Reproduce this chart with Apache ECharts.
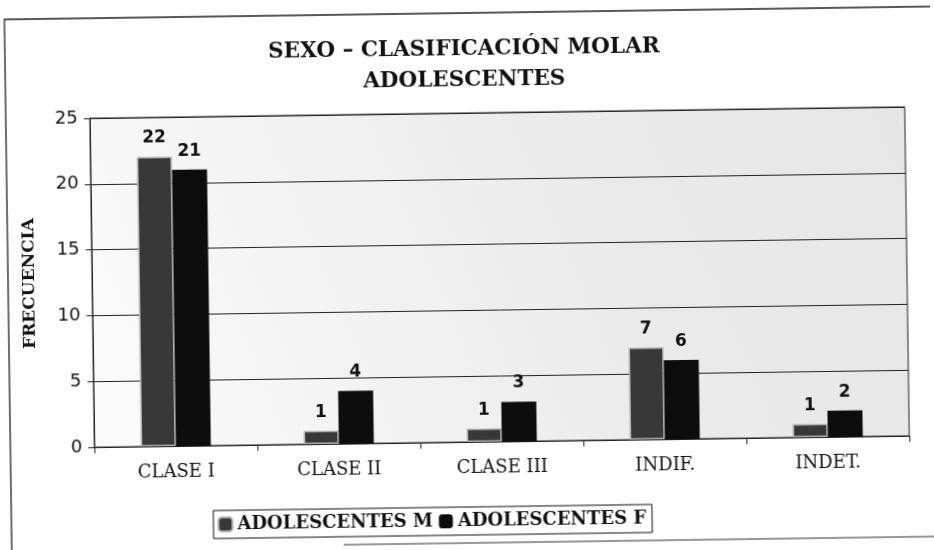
<!DOCTYPE html>
<html>
<head>
<meta charset="utf-8">
<script src="https://cdn.jsdelivr.net/npm/echarts@6/dist/echarts.min.js"></script>
<style>
  html, body { margin: 0; padding: 0; background: #fff; overflow: hidden; }
  /* the scanned reference sits slightly askew */
  #chart { width: 934px; height: 550px; transform: rotate(-0.8deg); }
</style>
</head>
<body>
<div id="chart"></div>
<script>
var categories = ['CLASE I', 'CLASE II', 'CLASE III', 'INDIF.', 'INDET.'];
var seriesNames = ['ADOLESCENTES M', 'ADOLESCENTES F'];
var valuesM = [22, 1, 1, 7, 1];
var valuesF = [21, 4, 3, 6, 2];

var chart = echarts.init(document.getElementById('chart'));

var serif = '"DejaVu Serif", "Liberation Serif", serif';
var sans = '"DejaVu Sans", Verdana, sans-serif';

option = {
    backgroundColor: 'transparent',
    animation: false,
    title: {
        text: 'SEXO – CLASIFICACIÓN MOLAR\nADOLESCENTES',
        left: 'center',
        top: 29,
        textStyle: {
            fontFamily: serif,
            fontWeight: 'bold',
            fontSize: 21.5,
            lineHeight: 31,
            color: '#111'
        }
    },
    graphic: [
        {
            type: 'polyline',
            shape: { points: [[950, 13], [8, 13], [8, 560]] },
            style: { fill: null, stroke: '#222', lineWidth: 1.3 },
            silent: true
        },
        {
            type: 'line',
            shape: { x1: 340, y1: 543, x2: 950, y2: 543 },
            style: { stroke: '#333', lineWidth: 1.2 },
            silent: true
        }
    ],
    legend: {
        data: seriesNames,
        left: 210,
        top: 507,
        itemWidth: 14,
        itemHeight: 14,
        itemGap: 6,
        padding: [5, 6, 5, 4],
        borderColor: '#111',
        borderWidth: 1,
        textStyle: {
            fontFamily: serif,
            fontWeight: 'bold',
            fontSize: 18,
            color: '#111'
        }
    },
    grid: {
        left: 92,
        right: 27,
        top: 113,
        bottom: 108,
        show: true,
        backgroundColor: new echarts.graphic.LinearGradient(0, 1, 1, 0, [
            { offset: 0, color: '#fbfbfb' },
            { offset: 0.6, color: '#ebebeb' },
            { offset: 1, color: '#e6e6e6' }
        ]),
        borderColor: '#222',
        borderWidth: 1
    },
    xAxis: {
        type: 'category',
        data: categories,
        axisLine: { lineStyle: { color: '#222', width: 1 } },
        axisTick: { show: true, length: 6, lineStyle: { color: '#222' } },
        axisLabel: {
            margin: 17,
            fontFamily: serif,
            fontSize: 18,
            color: '#111'
        }
    },
    yAxis: {
        type: 'value',
        min: 0,
        max: 25,
        interval: 5,
        name: 'FRECUENCIA',
        nameLocation: 'middle',
        nameGap: 54,
        nameRotate: 90,
        nameTextStyle: {
            fontFamily: serif,
            fontWeight: 'bold',
            fontSize: 17,
            color: '#111'
        },
        axisLine: { show: true, lineStyle: { color: '#222' } },
        axisTick: { show: true, length: 6, lineStyle: { color: '#222' } },
        axisLabel: {
            margin: 12,
            fontFamily: sans,
            fontSize: 18,
            color: '#111'
        },
        splitLine: { show: true, lineStyle: { color: '#222', width: 1 } }
    },
    series: [
        {
            name: seriesNames[0],
            type: 'bar',
            data: valuesM,
            barWidth: 35,
            barGap: '0%',
            itemStyle: {
                color: '#383838',
                borderColor: '#b0b0b0',
                borderWidth: 1.5
            },
            label: {
                show: true,
                position: 'top',
                distance: 10,
                fontFamily: sans,
                fontWeight: 'bold',
                fontSize: 17,
                color: '#111'
            }
        },
        {
            name: seriesNames[1],
            type: 'bar',
            data: valuesF,
            barWidth: 35,
            itemStyle: { color: '#0d0d0d' },
            label: {
                show: true,
                position: 'top',
                distance: 10,
                fontFamily: sans,
                fontWeight: 'bold',
                fontSize: 17,
                color: '#111'
            }
        }
    ]
};

chart.setOption(option);
</script>
</body>
</html>
